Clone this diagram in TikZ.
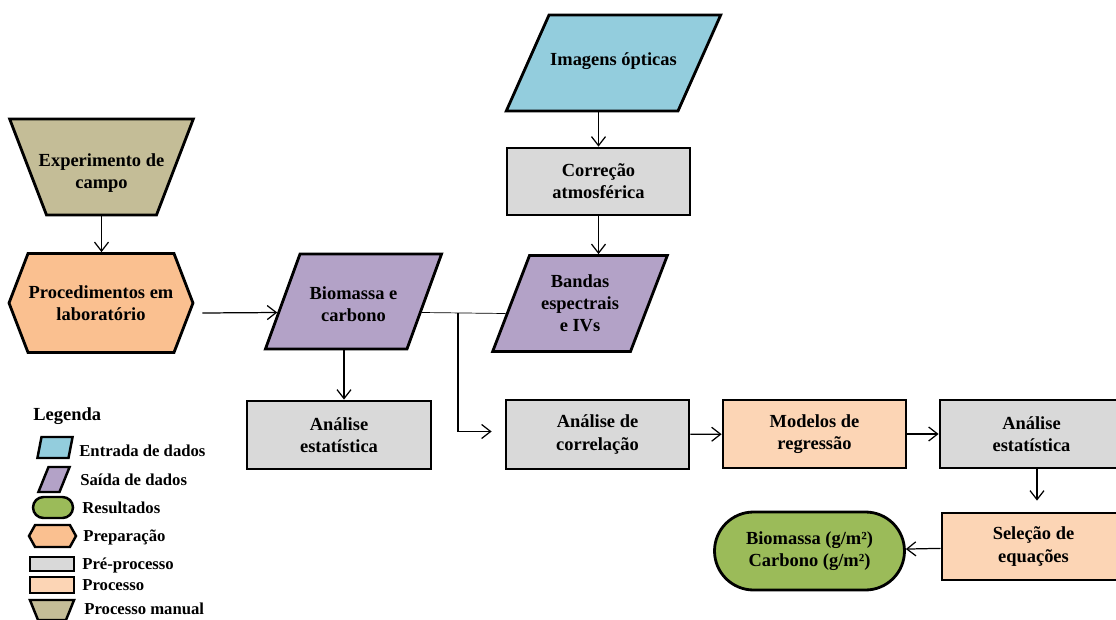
\documentclass[tikz,border=0pt]{standalone}
\usepackage{fontspec}
\setmainfont{Liberation Serif}
\usetikzlibrary{shapes.geometric,shapes.symbols,shapes.misc,arrows.meta}
\definecolor{entrada}{HTML}{93CDDD}
\definecolor{saida}{HTML}{B3A2C7}
\definecolor{result}{HTML}{9BBB59}
\definecolor{prepar}{HTML}{FAC090}
\definecolor{preproc}{HTML}{D9D9D9}
\definecolor{proces}{HTML}{FCD5B5}
\definecolor{manual}{HTML}{C4BD97}

\begin{document}
\begin{tikzpicture}[x=0.02cm,y=-0.02cm,
	box/.style={draw,line width=1.6pt,inner sep=0pt,align=center,font=\bfseries\fontsize{10.5}{12.6}\selectfont},
	rectbox/.style={box,rectangle,minimum width=3.66cm,minimum height=1.36cm},
	para/.style={draw,line width=1.6pt,inner sep=0pt,trapezium,text height=0.96cm,text depth=0.96cm},
	txt/.style={inner sep=0pt,align=center,font=\bfseries\fontsize{10.5}{12.6}\selectfont},
	leg/.style={anchor=west,inner sep=0pt,font=\bfseries\fontsize{9.5}{11}\selectfont},
	legbox/.style={draw,line width=1.4pt,inner sep=0pt},
	arr/.style={-{Straight Barb[length=1.8mm,width=2.8mm]},line width=0.7pt}]
\useasboundingbox (0,0) rectangle (1116,619);

	\node[para,fill=entrada,trapezium left angle=66,trapezium right angle=114,text width=2.58cm] (img) at (613.5,63) {};
	\node[txt] (img-t) at ([yshift=0.03cm]img.center) {Imagens ópticas};
	\node[rectbox,fill=preproc,minimum height=1.34cm] (corr) at (598.5,181.5) {Correção\\atmosférica};
	\node[para,fill=saida,trapezium left angle=69,trapezium right angle=111,text width=2.02cm] (bandas) at (580,303.5) {};
	\node[txt] (bandas-t) at (bandas.center) {Bandas\\espectrais\\e IVs};
	\node[para,fill=saida,trapezium left angle=70,trapezium right angle=110,text width=2.14cm,text height=0.95cm,text depth=0.95cm] (biom) at (353.5,301.5) {};
	\node[txt] (biom-t) at ([yshift=-0.06cm]biom.center) {Biomassa e\\carbono};
	\node[para,fill=manual,trapezium left angle=69,trapezium right angle=69,shape border rotate=180,text width=2.2cm] (exp) at (101.5,167) {};
	\node[txt] (exp-t) at ([yshift=-0.12cm]exp.center) {Experimento de\\campo};
	\node[box,fill=prepar,signal,signal to=west and east,signal pointer angle=138,minimum width=3.68cm,minimum height=1.98cm] (proc) at (101,303) {Procedimentos em\\laboratório};
	\node[rectbox,fill=preproc,minimum width=3.68cm] (ae1) at (339,435) {Análise\\estatística};
	\node[rectbox,fill=preproc,minimum height=1.38cm] (acor) at (597.5,434.5) {Análise de\\correlação};
	\node[rectbox,fill=proces] (mod) at (814.5,434) {Modelos de\\regressão};
	\node[rectbox,fill=preproc] (ae2) at (1031.5,434) {Análise\\estatística};
	\node[rectbox,fill=proces,minimum height=1.34cm] (sel) at (1033.5,546.5) {Seleção de\\equações};
	\node[box,fill=result,rounded rectangle,minimum width=3.8cm,minimum height=1.56cm] (res) at (809.5,551) {Biomassa (g/m²)\\Carbono (g/m²)};
	\coordinate (jn) at (458,313);

\draw[arr] (corr.north |- img.south) -- (corr.north);
\draw[arr] (corr.south) -- (corr.south |- bandas.north);
\draw[arr] (exp.south) -- (exp.south |- proc.north);
\draw[arr] ([shift={(8,10)}]proc.east) -- ([shift={(-4,11)}]biom.west);
\draw ([shift={(-4,11)}]biom.east) -- ([shift={(-4,10)}]bandas.west);
\draw[arr,shorten >=0.26cm] (jn) |- ([yshift=0.06cm]acor.west);
\draw[arr] ([xshift=0.1cm]ae1.north |- biom.south) -- ([xshift=0.1cm]ae1.north);
\draw[arr] (acor) -- (mod);
\draw[arr] (mod) -- (ae2);
\draw[arr,shorten >=0.22cm] ([xshift=0.11cm]ae2.south) -- ([xshift=0.11cm]ae2.south |- sel.north);
\draw[arr] (sel) -- (res);

	\node[anchor=west,inner sep=0pt,font=\bfseries\fontsize{10.5}{12.6}\selectfont] (legenda) at (33,416) {Legenda};
	\node[legbox,fill=entrada,trapezium,trapezium left angle=79,trapezium right angle=101,text width=0.54cm,text height=0.21cm,text depth=0.21cm] (l1) at (55,447.5) {};
	\node[leg] (t1) at (79,451) {Entrada de dados};
	\node[legbox,fill=saida,trapezium,trapezium left angle=68,trapezium right angle=112,text width=0.22cm,text height=0.25cm,text depth=0.25cm] (l2) at (54,479.5) {};
	\node[leg] (t2) at (80,479.5) {Saída de dados};
	\node[legbox,fill=result,rounded rectangle,minimum width=0.8cm,minimum height=0.42cm] (l3) at (53,507.5) {};
	\node[leg] (t3) at (82,508) {Resultados};
	\node[legbox,fill=prepar,signal,signal to=west and east,signal pointer angle=122,minimum width=0.94cm,minimum height=0.44cm] (l4) at (52.5,536) {};
	\node[leg] (t4) at (83,537) {Preparação};
	\node[legbox,fill=preproc,minimum width=0.88cm,minimum height=0.28cm] (l5) at (52,564) {};
	\node[leg] (t5) at (82,565) {Pré-processo};
	\node[legbox,fill=proces,minimum width=0.88cm,minimum height=0.32cm] (l6) at (52,585) {};
	\node[leg] (t6) at (82,585) {Processo};
	\node[legbox,fill=manual,trapezium,trapezium left angle=68,trapezium right angle=68,shape border rotate=180,text width=0.56cm,text height=0.2cm,text depth=0.2cm] (l7) at (52,610) {};
	\node[leg] (t7) at (84,609) {Processo manual};
\end{tikzpicture}
\end{document}
